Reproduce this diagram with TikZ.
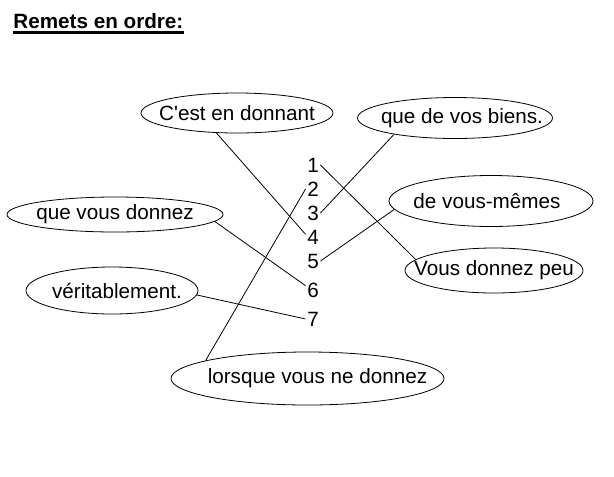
\documentclass[tikz,border=0pt]{standalone}
\usepackage{fontspec}
\setmainfont{Liberation Sans}
\usetikzlibrary{shapes.geometric}
\newcommand{\bubtext}[2][0pt]{\makebox[0pt]{\hspace*{#1}#2}}
\tikzset{
  bubble/.style={ellipse, draw, inner sep=0pt, font=\fontsize{15.5}{18}\selectfont},
  numlabel/.style={inner sep=1pt, font=\fontsize{15.5}{18}\selectfont},
}

\begin{document}
\begin{tikzpicture}[x=0.75pt, y=-0.75pt, line width=0.6pt]
    \useasboundingbox (0,0) rectangle (614,476);
    % title
    \node[anchor=base west, inner sep=0pt, font=\fontsize{15.5}{18}\selectfont\bfseries] (title) at (13,28) {Remets en ordre:};
    \draw[line width=1.6pt] ([yshift=-3.4pt]title.base west) -- ([yshift=-3.4pt]title.base east);
    % define bubbles
    \node[bubble, minimum width=144pt, minimum height=30pt] (cest) at (237,113) {\bubtext{C\textquotesingle est en donnant}};
    \node[bubble, minimum width=146.25pt, minimum height=30.75pt] (biens) at (455,118) {\bubtext[10.5pt]{que de vos biens.}};
    \node[bubble, minimum width=162pt, minimum height=26.25pt] (donnez) at (115,214.5) {\bubtext{que vous donnez}};
    \node[bubble, minimum width=153pt, minimum height=38.25pt] (memes) at (491,201) {\bubtext[-6pt]{de vous-mêmes}};
    \node[bubble, minimum width=133.5pt, minimum height=33.75pt] (peu) at (494,270.5) {\bubtext{Vous donnez peu}};
    \node[bubble, minimum width=129pt, minimum height=35.25pt] (verit) at (112,290.5) {\bubtext[7.5pt]{véritablement.}};
    \node[bubble, minimum width=204.75pt, minimum height=39.75pt] (lorsque) at (307.5,378.5) {\bubtext[15pt]{lorsque vous ne donnez}};
    % numbers
    \foreach \n/\y in {1/165, 2/189, 3/213, 4/237, 5/261, 6/290, 7/319}
        \node[numlabel] (num\n) at (313,\y) {\n};
    % draw links
    \draw (cest.-136) -- (num4.160);
    \draw (biens.-165) -- (num3.east);
    \draw (num1.east) -- (peu.172);
    \draw (memes.-175) -- (num5.east);
    \draw (num2.west) -- (lorsque.170);
    \draw (donnez.-4) -- (num6.150);
    \draw (verit.-3) -- (num7.west);
\end{tikzpicture}
\end{document}
